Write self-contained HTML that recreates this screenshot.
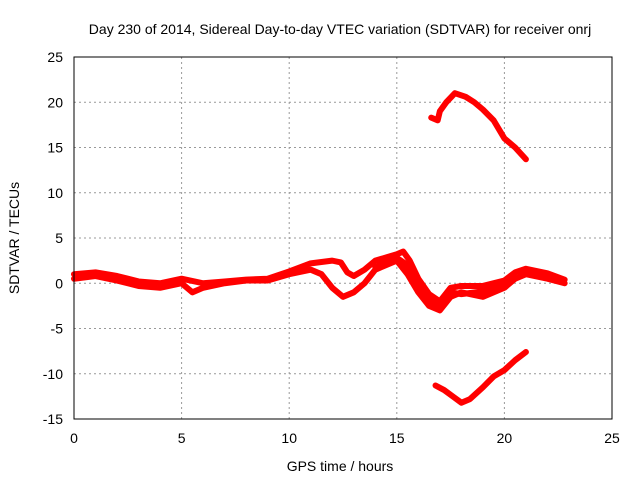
<!DOCTYPE html>
<html><head><meta charset="utf-8"><style>
body{margin:0;background:#fff}
svg{display:block;font-family:"Liberation Sans",sans-serif}
</style></head><body>
<svg id="c" width="640" height="480">
<rect width="640" height="480" fill="#fff"/>
<text x="340" y="34" text-anchor="middle" font-size="14">Day 230 of 2014, Sidereal Day-to-day VTEC variation (SDTVAR) for receiver onrj</text>
<text x="340" y="471" text-anchor="middle" font-size="14">GPS time / hours</text>
<text transform="translate(19,238) rotate(-90)" text-anchor="middle" font-size="14">SDTVAR / TECUs</text>
<g id="grid"></g><g id="series"></g>
<rect x="74" y="57" width="538" height="362" fill="none" stroke="#000"/>
</svg>
<script>
const xTicks=[0,5,10,15,20,25];
const yTicks=[-15,-10,-5,0,5,10,15,20,25];
const upperArcX=[16.6,16.9,17.0,17.3,17.7,18.2,18.6,19,19.5,20,20.5,21];
const upperArcY=[18.3,18,19,20,21,20.6,20,19.2,18,16,15,13.7];
const lowerArcX=[16.8,17.2,17.6,18.0,18.4,19,19.5,20,20.5,21];
const lowerArcY=[-11.3,-11.8,-12.5,-13.2,-12.8,-11.5,-10.3,-9.6,-8.5,-7.6];
const strandAX=[0,1,2,3,4,5,6,7,8,9,10,11,12,12.4,12.7,13,13.5,14,15,15.3,15.6,16,16.5,17,17.5,18,19,20,20.5,21,22,22.8];
const strandAY=[1,1.2,0.8,0.2,0,0.5,0,0.2,0.4,0.5,1.3,2.2,2.5,2.3,1.2,0.8,1.5,2.5,3.2,3.5,2.5,0.5,-1.2,-2,-0.5,-0.3,-0.3,0.3,1.2,1.6,1.1,0.4];
const strandBX=[0,1,2,3,4,5,5.5,6,7,8,9,10,11,11.5,12,12.5,13,13.5,14,15,15.5,16,16.5,17,17.5,18,19,20,20.5,21,22,22.8];
const strandBY=[0.5,0.8,0.3,-0.3,-0.5,0,-1,-0.5,0,0.3,0.3,1,1.5,1,-0.5,-1.5,-1,0,1.5,2.5,1,-1,-2.5,-3,-1.5,-1,-1.5,-0.5,0.5,1,0.5,0];
const strandCX=[14,15,15.5,16,16.5,17,17.5,18,19,20];
const strandCY=[1.8,2.8,2,-0.3,-1.8,-2.5,-1,-1.2,-0.9,-0.2];
const X=v=>74+(v-0)*(538/25), Y=v=>419-(v+15)*(362/40);
const NS="http://www.w3.org/2000/svg";
const g=document.getElementById('grid'), s=document.getElementById('series');
function mk(t,a,p){const e=document.createElementNS(NS,t);for(const k in a)e.setAttribute(k,a[k]);p.appendChild(e);return e;}
xTicks.forEach(v=>{
 const l=mk('line',{x1:X(v),x2:X(v),y1:57,y2:419,stroke:'#999','stroke-dasharray':'2,3'},g);
 
 
 const t=mk('text',{x:X(v),y:443,'text-anchor':'middle','font-size':14},g);t.textContent=v;
 
 
});
yTicks.forEach(v=>{
 const l=mk('line',{x1:74,x2:612,y1:Y(v),y2:Y(v),stroke:'#999','stroke-dasharray':'2,3'},g);
 
 
 const t=mk('text',{x:63,y:Y(v)+5,'text-anchor':'end','font-size':14},g);t.textContent=v;
 
 
});
function line(xs,ys,name){
 const p=mk('polyline',{points:xs.map((x,i)=>X(x)+','+Y(ys[i])).join(' '),fill:'none',stroke:'#f00','stroke-width':6,'stroke-linejoin':'round','stroke-linecap':'round'},s);
 
 
}
line(upperArcX,upperArcY,'series-upper-arc');
line(lowerArcX,lowerArcY,'series-lower-arc');
line(strandAX,strandAY,'series-strand-a');
line(strandBX,strandBY,'series-strand-b');
line(strandCX,strandCY,'series-strand-c');
</script>
</body></html>
